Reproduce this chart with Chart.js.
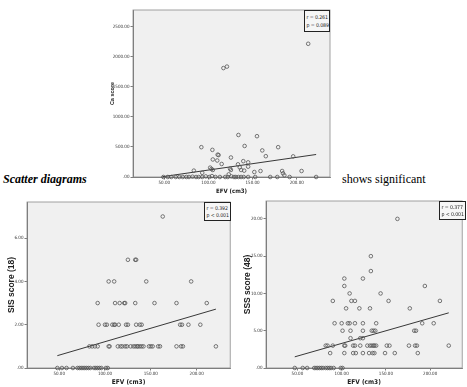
<!DOCTYPE html>
<html>
<head>
<meta charset="utf-8">
<script src="https://cdn.jsdelivr.net/npm/chart.js@4"></script>
<style>
  body { margin: 0; width: 467px; height: 387px; background: #fff; position: relative; overflow: hidden; }
  canvas { position: absolute; }
  .stat { position: absolute; box-sizing: border-box; border: 1.5px solid #222; background: #f6f6f6;
          font: 5.2px 'Liberation Sans Narrow', 'DejaVu Sans Condensed', 'Liberation Sans', Arial, sans-serif;
          letter-spacing: -0.1px; color: #222; padding-left: 1.5px; white-space: nowrap; overflow: hidden; }
  .prose { position: absolute; top: 173px; font: 12px 'Liberation Serif', 'Times New Roman', serif;
           line-height: 1; color: #000; white-space: nowrap; }
</style>
</head>
<body>
<div class="prose" style="left:3px;font-weight:bold;font-style:italic">Scatter diagrams</div>
<div class="prose" style="left:342px">shows significant</div>

<canvas id="chart-ca" width="235" height="196" style="left:100px;top:0"></canvas>
<canvas id="chart-sis" width="235" height="192" style="left:0;top:195px"></canvas>
<canvas id="chart-sss" width="232" height="192" style="left:235px;top:195px"></canvas>

<div class="stat" style="left:304px;top:10px;width:26px;height:22px;line-height:8px;padding-top:2px">r = 0.261<br>p = 0.089</div>
<div class="stat" style="left:204px;top:202px;width:27px;height:19px;line-height:7px;padding-top:1.5px">r = 0.392<br>p &lt; 0.001</div>
<div class="stat" style="left:439px;top:201px;width:27px;height:19px;line-height:7px;padding-top:1.5px">r = 0.377<br>p &lt; 0.001</div>

<script>
// tick labels
const efvTicks = [50, 100, 150, 200];
const caTicks = [0, 500, 1000, 1500, 2000, 2500];
const sisTicks = [0, 2, 4, 6];
const sssTicks = [0, 5, 10, 15, 20];

// Ca score vs EFV
const caEfv = [213, 117, 121, 134, 155, 92, 141, 104.5, 161, 179, 110.5, 111.5, 125.5, 105, 110, 115,
  165, 196, 133.5, 139.5, 145, 135.5, 145, 124.5, 125.5, 83.5, 93, 102, 103.5, 105, 123, 137, 140.5,
  152, 159, 183.5, 184.5, 186, 205.5,
  49, 54, 58, 63, 67, 71, 75, 78, 82, 86, 89, 93, 97, 101, 104, 108, 113, 119, 122, 126,
  129, 131, 134, 137, 140, 145, 153, 170, 178, 192, 222];
const caScore = [2220, 1815, 1840, 700, 680, 497, 517, 452, 443, 497, 372, 365, 325, 292, 275, 217,
  347, 344, 211, 264, 244, 161, 172, 139, 117, 106, 70, 156, 133, 117, 44, 117, 106,
  83, 100, 100, 61, 28, 100,
  0, 0, 0, 0, 0, 0, 0, 0, 5, 0, 0, 0, 10, 0, 15, 0, 0, 0, 0, 10,
  0, 0, 0, 0, 0, 0, 0, 0, 0, 0, 0];
const caFitEfv = [48, 222];
const caFitScore = [5, 375];

// SIS score vs EFV
const sisEfv = [
  163,
  125, 133, 134,
  104, 110, 145, 194,
  92, 111, 116, 121, 122, 133, 154, 178, 211,
  93, 100, 102, 108, 110, 111, 115, 123, 125, 134, 138, 140, 182, 184, 191, 204,
  83, 86, 89, 92, 104, 105, 114, 117, 119, 122, 124, 128, 131, 133, 135, 136, 138, 140, 142, 148,
  150, 152, 158, 160, 178, 183, 185, 221,
  48, 53, 58, 65, 70, 72, 74, 76, 78, 80, 82, 84, 88, 90, 92, 94, 96, 101, 103];
const sisScore = [
  7,
  5, 5, 5,
  4, 4, 4, 4,
  3, 3, 3, 3, 3, 3, 3, 3, 3,
  2, 2, 2, 2, 2, 2, 2, 2, 2, 2, 2, 2, 2, 2, 2, 2,
  1, 1, 1, 1, 1, 1, 1, 1, 1, 1, 1, 1, 1, 1, 1, 1, 1, 1, 1, 1,
  1, 1, 1, 1, 1, 1, 1, 1,
  0, 0, 0, 0, 0, 0, 0, 0, 0, 0, 0, 0, 0, 0, 0, 0, 0, 0, 0];
const sisFitEfv = [48, 221];
const sisFitScore = [0.57, 2.72];

// SSS score vs EFV
const sssEfv = [
  163, 133, 133,
  103, 124,
  103, 194,
  109, 144,
  90, 111, 115, 153, 211,
  105, 120, 132, 177,
  92, 100, 107, 109, 115, 124, 139, 191, 204,
  101, 110, 124, 134, 136, 138, 182, 184,
  110, 121, 124,
  82, 84, 90, 103, 104, 113, 115, 121, 129, 132, 134, 136, 137, 139, 151, 154, 176, 183, 185, 221,
  87, 103, 113, 116, 124, 131, 135, 137, 149, 160, 186,
  47, 56, 61, 69, 71, 73, 75, 77, 79, 82, 84, 86, 88, 91, 99, 101];
const sssScore = [
  20, 15, 13,
  12, 12,
  11, 11,
  10, 10,
  9, 9, 9, 9, 9,
  8, 8, 8, 8,
  6, 6, 6, 6, 6, 6, 6, 6, 6,
  5, 5, 5, 5, 5, 5, 5, 5,
  4, 4, 4,
  3, 3, 3, 3, 3, 3, 3, 3, 3, 3, 3, 3, 3, 3, 3, 3, 3, 3, 3, 3,
  2, 2, 2, 2, 2, 2, 2, 2, 2, 2, 2,
  0, 0, 0, 0, 0, 0, 0, 0, 0, 0, 0, 0, 0, 0, 0, 0];
const sssFitEfv = [47, 221];
const sssFitScore = [1.5, 7.4];

const tickFont = { family: "'Liberation Sans Narrow', 'DejaVu Sans Condensed', 'Liberation Sans', Arial, sans-serif", size: 4.5 };
const titleFamily = "'Liberation Sans', Arial, sans-serif";
const narrowFamily = "'Liberation Sans Narrow', 'DejaVu Sans Condensed', 'Liberation Sans', Arial, sans-serif";

const fmt = v => (v === 0 ? '.00' : Number(v).toFixed(2));

// grey plot background + frame, like SPSS
const plotFrame = {
  id: 'plotFrame',
  beforeDraw(chart) {
    const { ctx, chartArea: a } = chart;
    ctx.save();
    ctx.fillStyle = '#f0f0f0';
    ctx.fillRect(a.left, a.top, a.width, a.height);
    ctx.restore();
  },
  beforeDatasetsDraw(chart) {
    const { ctx, chartArea: a } = chart;
    ctx.save();
    ctx.strokeStyle = '#8a8a8a';
    ctx.lineWidth = 0.8;
    ctx.strokeRect(a.left, a.top, a.width, a.height);
    ctx.restore();
  }
};

function zip(xs, ys) {
  return xs.map((x, i) => ({ x, y: ys[i] }));
}

function scatterChart(id, c) {
  return new Chart(document.getElementById(id), {
    type: 'scatter',
    data: {
      datasets: [{
        data: zip(c.x, c.y),
        pointRadius: 1.8,
        borderColor: '#555',
        borderWidth: 0.8,
        backgroundColor: 'rgba(0,0,0,0)',
        clip: false,
      }, {
        type: 'line',
        data: zip(c.fitX, c.fitY),
        borderColor: '#222',
        borderWidth: 0.9,
        pointRadius: 0,
        fill: false,
        clip: false,
      }],
    },
    options: {
      responsive: false,
      animation: false,
      devicePixelRatio: 1,
      layout: { padding: c.pad },
      plugins: { legend: { display: false }, tooltip: { enabled: false } },
      scales: {
        x: {
          type: 'linear', min: c.xMin, max: c.xMax,
          afterFit: s => { s.height = c.xh; },
          afterBuildTicks: s => { s.ticks = efvTicks.map(v => ({ value: v })); },
          ticks: { font: tickFont, color: '#333', padding: 1, autoSkip: false, maxRotation: 0, callback: fmt },
          grid: { drawOnChartArea: false, tickLength: 2.5, color: '#444', lineWidth: 0.7 },
          border: { color: '#777' },
          title: { display: true, text: 'EFV (cm3)', color: '#222', padding: { top: 0, bottom: c.xTitlePad },
                   font: { family: narrowFamily, size: c.xTitleSize, weight: 'bold' } },
        },
        y: {
          type: 'linear', min: 0, max: c.yMax,
          afterFit: s => { s.width = c.yw; },
          afterBuildTicks: s => { s.ticks = c.yTicks.map(v => ({ value: v })); },
          ticks: { font: tickFont, color: '#333', padding: 1, autoSkip: false, callback: fmt },
          grid: { drawOnChartArea: false, tickLength: 2.5, color: '#444', lineWidth: 0.7 },
          border: { color: '#777' },
          title: { display: true, text: c.yTitle, color: '#222', padding: { top: c.yTitlePad, bottom: 0 },
                   font: { family: titleFamily, size: c.yTitleSize, weight: 'bold' } },
        },
      },
    },
    plugins: [plotFrame],
  });
}

scatterChart('chart-ca', {
  x: caEfv, y: caScore, fitX: caFitEfv, fitY: caFitScore,
  xMin: 14.6, xMax: 237.7, yMax: 2783, yTicks: caTicks,
  pad: { top: 10, right: 5, bottom: 0, left: 0 }, yw: 33, xh: 19,
  yTitle: 'Ca score', yTitleSize: 5.5, yTitlePad: 8.7, xTitleSize: 6, xTitlePad: 1.4,
});

scatterChart('chart-sis', {
  x: sisEfv, y: sisScore, fitX: sisFitEfv, fitY: sisFitScore,
  xMin: 14.9, xMax: 236.6, yMax: 7.67, yTicks: sisTicks,
  pad: { top: 7, right: 4, bottom: 0, left: 0 }, yw: 27, xh: 19,
  yTitle: 'SIS score (18)', yTitleSize: 8.5, yTitlePad: 6.6, xTitleSize: 6.5, xTitlePad: 1.1,
});

scatterChart('chart-sss', {
  x: sssEfv, y: sssScore, fitX: sssFitEfv, fitY: sssFitScore,
  xMin: 14.5, xMax: 236.2, yMax: 22.4, yTicks: sssTicks,
  pad: { top: 6, right: 1, bottom: 0, left: 0 }, yw: 31, xh: 19,
  yTitle: 'SSS score (48)', yTitleSize: 8.5, yTitlePad: 7.4, xTitleSize: 6.5, xTitlePad: 1.1,
});
</script>
</body>
</html>
